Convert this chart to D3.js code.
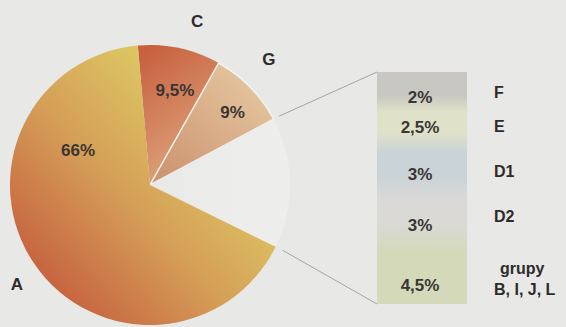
<!DOCTYPE html>
<html>
<head>
<meta charset="utf-8">
<script src="https://cdn.jsdelivr.net/npm/d3@7"></script>
<style>
  html, body { margin: 0; padding: 0; background: #e8e8e6; }
  svg { display: block; font-family: "Liberation Sans", Arial, sans-serif; font-weight: bold; }
</style>
</head>
<body>
<div id="chart"></div>
<script>
// main pie: clockwise from the top
const pieNames = ['C', 'G', 'rest', 'A'];
const pieValues = [9.5, 9, 15, 66];
const pieLabels = ['9,5%', '9%', '', '66%'];

// breakdown of the "rest" slice, top to bottom
const barNames = ['F', 'E', 'D1', 'D2', 'grupy B, I, J, L'];
const barValues = [2, 2.5, 3, 3, 4.5];
const barLabels = ['2%', '2,5%', '3%', '3%', '4,5%'];

const width = 566, height = 327;
const cx = 150, cy = 185, radius = 140;
const rad = deg => deg * Math.PI / 180;
const polar = (deg, r) => [Math.sin(rad(deg)) * r, -Math.cos(rad(deg)) * r];

const svg = d3.select('#chart').append('svg')
  .attr('width', width).attr('height', height);

const defs = svg.append('defs');

function linGrad(id, x1, y1, x2, y2, stops) {
  const g = defs.append('linearGradient').attr('id', id)
    .attr('x1', x1).attr('y1', y1).attr('x2', x2).attr('y2', y2);
  stops.forEach(s => g.append('stop').attr('offset', s[0]).attr('stop-color', s[1]));
}
linGrad('gA', '72%', '30%', '12%', '88%', [[0, '#dcc462'], [0.45, '#d59e57'], [1, '#c55f3e']]);
linGrad('gC', '20%', '0%', '60%', '100%', [[0, '#c8603f'], [1, '#deaa80']]);
linGrad('gG', '80%', '10%', '10%', '90%', [[0, '#e4c49d'], [1, '#cd9672']]);
linGrad('gRest', '0%', '0%', '100%', '0%', [[0, '#e9e9e7'], [1, '#eeeeec']]);

const fills = {A: 'url(#gA)', C: 'url(#gC)', G: 'url(#gG)', rest: 'url(#gRest)'};

const pie = d3.pie().sort(null)
  .startAngle(rad(-5))
  .endAngle(rad(355));
const arcs = pie(pieValues).map((d, i) => Object.assign(d, {name: pieNames[i], label: pieLabels[i]}));
const arc = d3.arc().innerRadius(0).outerRadius(radius);

const g = svg.append('g').attr('transform', `translate(${cx},${cy})`);

g.selectAll('path').data(arcs).join('path')
  .attr('d', arc)
  .attr('fill', d => fills[d.name])
  .attr('stroke', d => d.name === 'G' ? '#f4f2ee' : 'none')
  .attr('stroke-width', 1.5);

// percent labels inside slices (angle in degrees clockwise from top, radius)
const labelPos = {C: [14.7, 98], G: [48.7, 110], A: [296, 80]};
g.selectAll('text.pct').data(arcs.filter(d => d.label)).join('text')
  .attr('class', 'pct')
  .attr('transform', d => `translate(${polar(...labelPos[d.name])})`)
  .attr('text-anchor', 'middle').attr('dy', '0.35em')
  .attr('font-size', 17).attr('fill', '#3a3533')
  .text(d => d.label);

// category letters outside the pie
const outer = [
  {name: 'C', angle: 16, r: 171},
  {name: 'G', angle: 43.4, r: 173},
  {name: 'A', angle: 233.3, r: 166}
];
g.selectAll('text.cat').data(outer).join('text')
  .attr('class', 'cat')
  .attr('transform', d => `translate(${polar(d.angle, d.r)})`)
  .attr('text-anchor', 'middle').attr('dy', '0.35em')
  .attr('font-size', 17).attr('fill', '#2e2b2a')
  .text(d => d.name);

// stacked breakdown bar
const barX = 377, barW = 90, barTop = 72, barBottom = 304;
const total = d3.sum(barValues);
const y = d3.scaleLinear().domain([0, total]).range([barTop, barBottom]);
const cum = d3.cumsum(barValues);
const segs = barValues.map((v, i) => ({
  name: barNames[i], label: barLabels[i], y0: cum[i] - v, y1: cum[i]
}));

const barColors = ['#c9c7c2', '#dfe2c8', '#cad3d8', '#dad9d6', '#d4dab9'];
const bg = defs.append('linearGradient').attr('id', 'gBar')
  .attr('gradientUnits', 'userSpaceOnUse')
  .attr('x1', 0).attr('y1', barTop).attr('x2', 0).attr('y2', barBottom);
segs.forEach((s, i) => {
  bg.append('stop').attr('offset', (s.y0 + 0.25 * (s.y1 - s.y0)) / total).attr('stop-color', barColors[i]);
  bg.append('stop').attr('offset', (s.y0 + 0.75 * (s.y1 - s.y0)) / total).attr('stop-color', barColors[i]);
});

// connector lines from the "rest" slice to the bar
const rest = arcs.find(d => d.name === 'rest');
const pA = [cx + Math.sin(rest.startAngle) * (radius + 6), cy - Math.cos(rest.startAngle) * (radius + 6)];
const pB = [cx + Math.sin(rest.endAngle) * (radius + 8), cy - Math.cos(rest.endAngle) * (radius + 8)];
svg.append('line')
  .attr('x1', pA[0]).attr('y1', pA[1]).attr('x2', barX).attr('y2', y(0))
  .attr('stroke', '#a5a5a3').attr('stroke-width', 1);
svg.append('line')
  .attr('x1', pB[0]).attr('y1', pB[1]).attr('x2', barX).attr('y2', y(total))
  .attr('stroke', '#a5a5a3').attr('stroke-width', 1);

svg.append('rect')
  .attr('x', barX).attr('y', y(0))
  .attr('width', barW).attr('height', y(total) - y(0))
  .attr('fill', 'url(#gBar)');

const barG = svg.append('g');
barG.selectAll('text.val').data(segs).join('text')
  .attr('class', 'val')
  .attr('x', barX + barW / 2 - 2)
  .attr('y', (d, i) => [97, 127, 174, 225, 285][i])
  .attr('text-anchor', 'middle').attr('dy', '0.35em')
  .attr('font-size', 17).attr('fill', '#3a3634')
  .text(d => d.label);

const nameY = [92, 126, 171, 216];
barG.selectAll('text.name').data(segs.slice(0, 4)).join('text')
  .attr('class', 'name')
  .attr('x', 494).attr('y', (d, i) => nameY[i])
  .attr('dy', '0.35em')
  .attr('font-size', 16).attr('fill', '#2e2b2a')
  .text(d => d.name);

const last = barG.append('text').attr('font-size', 16).attr('fill', '#2e2b2a');
last.append('tspan').attr('x', 500).attr('y', 268).attr('dy', '0.35em').text('grupy');
last.append('tspan').attr('x', 494).attr('y', 289).attr('dy', '0.35em').text('B, I, J, L');
</script>
</body>
</html>
